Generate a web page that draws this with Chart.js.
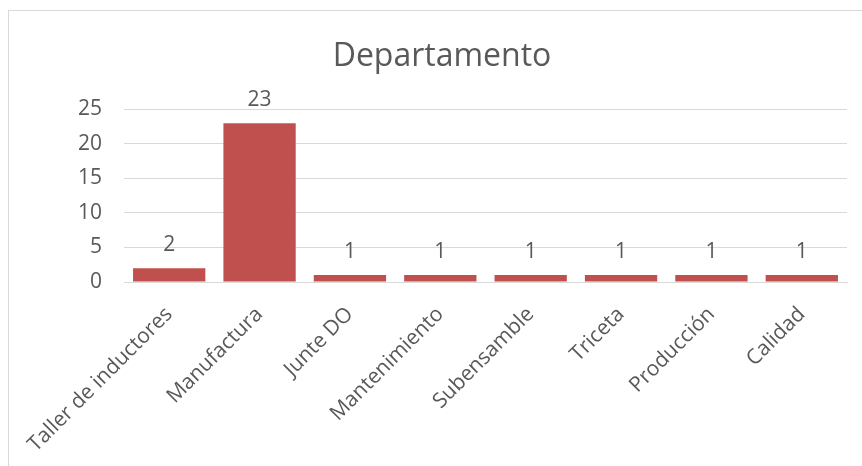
<!DOCTYPE html>
<html>
<head>
<meta charset="utf-8">
<script src="https://cdn.jsdelivr.net/npm/chart.js@4"></script>
<style>
    html, body { margin: 0; padding: 0; background: #fff; }
    #frame {
        position: absolute; left: 8px; top: 10px; width: 900px; height: 500px;
        border: 1px solid #d9d9d9; box-sizing: border-box;
    }
    #wrap { position: absolute; left: 0; top: 0; width: 862px; height: 466px; }
</style>
</head>
<body>
<div id="frame"></div>
<div id="wrap"><canvas id="chart"></canvas></div>
<script>
const categories = ['Taller de inductores', 'Manufactura', 'Junte DO', 'Mantenimiento', 'Subensamble', 'Triceta', 'Producción', 'Calidad'];
const counts = [2, 23, 1, 1, 1, 1, 1, 1];
const yTicks = [0, 5, 10, 15, 20, 25];

const textColor = '#595959';
const fontFamily = '"Open Sans", sans-serif';

// value labels above each bar
const barLabels = {
    id: 'barLabels',
    afterDatasetsDraw(chart) {
        const ctx = chart.ctx;
        const meta = chart.getDatasetMeta(0);
        ctx.save();
        ctx.fillStyle = textColor;
        ctx.font = '21px ' + fontFamily;
        ctx.textAlign = 'center';
        ctx.textBaseline = 'bottom';
        meta.data.forEach((bar, i) => {
            ctx.fillText(String(counts[i]), bar.x, bar.y - 13);
        });
        ctx.restore();
    }
};

new Chart(document.getElementById('chart'), {
    type: 'bar',
    data: {
        labels: categories,
        datasets: [{
            data: counts,
            backgroundColor: '#C0504D',
            borderWidth: 0,
            barPercentage: 0.8,
            categoryPercentage: 1.0
        }]
    },
    options: {
        responsive: true,
        maintainAspectRatio: false,
        animation: false,
        layout: { padding: { top: 30, left: 37, right: 15, bottom: 0 } },
        plugins: {
            legend: { display: false },
            tooltip: { enabled: false },
            title: {
                display: true,
                text: 'Departamento',
                color: textColor,
                font: { family: fontFamily, size: 32, weight: 'normal' },
                padding: { top: 8, bottom: 33 }
            }
        },
        scales: {
            x: {
                grid: { display: false },
                border: { display: true, color: '#d9d9d9', width: 1 },
                ticks: {
                    color: textColor,
                    font: { family: fontFamily, size: 21 },
                    minRotation: 45,
                    maxRotation: 45,
                    padding: 12
                },
                afterFit(scale) { scale.height = 184; }
            },
            y: {
                min: 0,
                max: 25,
                afterBuildTicks(scale) { scale.ticks = yTicks.map(v => ({ value: v })); },
                grid: { color: '#d9d9d9', drawTicks: false },
                border: { display: false },
                ticks: {
                    color: textColor,
                    font: { family: fontFamily, size: 21 },
                    padding: 22
                },
                afterFit(scale) { scale.width = 87; }
            }
        }
    },
    plugins: [barLabels]
});
</script>
</body>
</html>
